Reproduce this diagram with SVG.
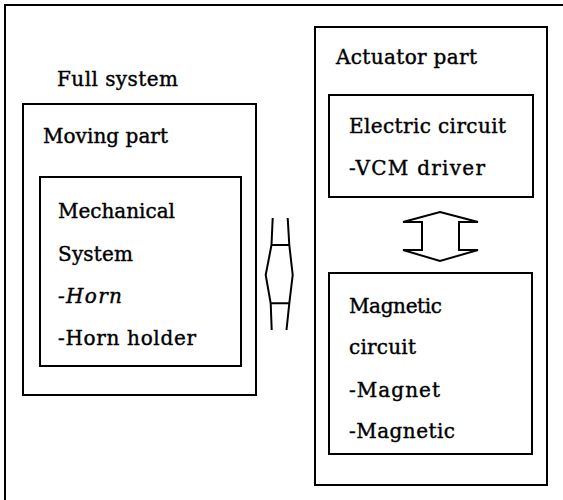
<svg xmlns="http://www.w3.org/2000/svg" width="563" height="500" viewBox="0 0 563 500">
<style>
.box{fill:none;stroke:#000;stroke-width:2}
.t{font-family:"DejaVu Serif","Liberation Serif",serif;font-size:20px;fill:#000;stroke:#000;stroke-width:0.4}
.it{font-style:italic}
.conn{fill:none;stroke:#000;stroke-width:2;stroke-linejoin:miter}
</style>
<rect width="563" height="500" fill="#fff"/>
<g id="full-system">
<path class="box" d="M5,505 L5,5 L568,5"/>
<text class="t" x="57" y="86" textLength="121">Full system</text>
</g>
<g id="moving-part">
<rect class="box" x="23" y="104" width="233" height="291"/>
<text class="t" x="43" y="143" textLength="125">Moving part</text>
</g>
<g id="mechanical-system">
<rect class="box" x="40" y="177" width="201" height="189"/>
<text class="t" x="58" y="218" textLength="117">Mechanical</text>
<text class="t" x="58" y="261" textLength="75">System</text>
<text class="t it" x="58" y="303" textLength="64">-Horn</text>
<text class="t" x="58" y="345" textLength="138">-Horn holder</text>
</g>
<g id="actuator-part">
<rect class="box" x="315" y="27" width="232" height="458"/>
<text class="t" x="336" y="64" textLength="141">Actuator part</text>
</g>
<g id="electric-circuit">
<rect class="box" x="329" y="95" width="204" height="102"/>
<text class="t" x="349" y="133" textLength="157">Electric circuit</text>
<text class="t" x="349" y="175" textLength="136">-VCM driver</text>
</g>
<g id="magnetic-circuit">
<rect class="box" x="329" y="273" width="203" height="181"/>
<text class="t" x="349" y="313" textLength="93">Magnetic</text>
<text class="t" x="349" y="354" textLength="67">circuit</text>
<text class="t" x="349" y="397" textLength="91">-Magnet</text>
<text class="t" x="349" y="438" textLength="106">-Magnetic</text>
</g>
<g id="connectors">
<path class="conn" d="M272.7,218 L271.5,245 L265.7,275 L270.7,303.3 L271.7,330 M287.7,218 L289.3,245 L292.7,275 L289.3,303.3 L286.5,330 M271.5,245 L289.3,245 M270.7,303.3 L289.3,303.3"/>
<path class="conn" d="M440,212 L478,222 L459,222 L459,250 L478,250 L440,261 L403,250 L422,250 L422,222 L403,222 Z"/>
</g>
</svg>
